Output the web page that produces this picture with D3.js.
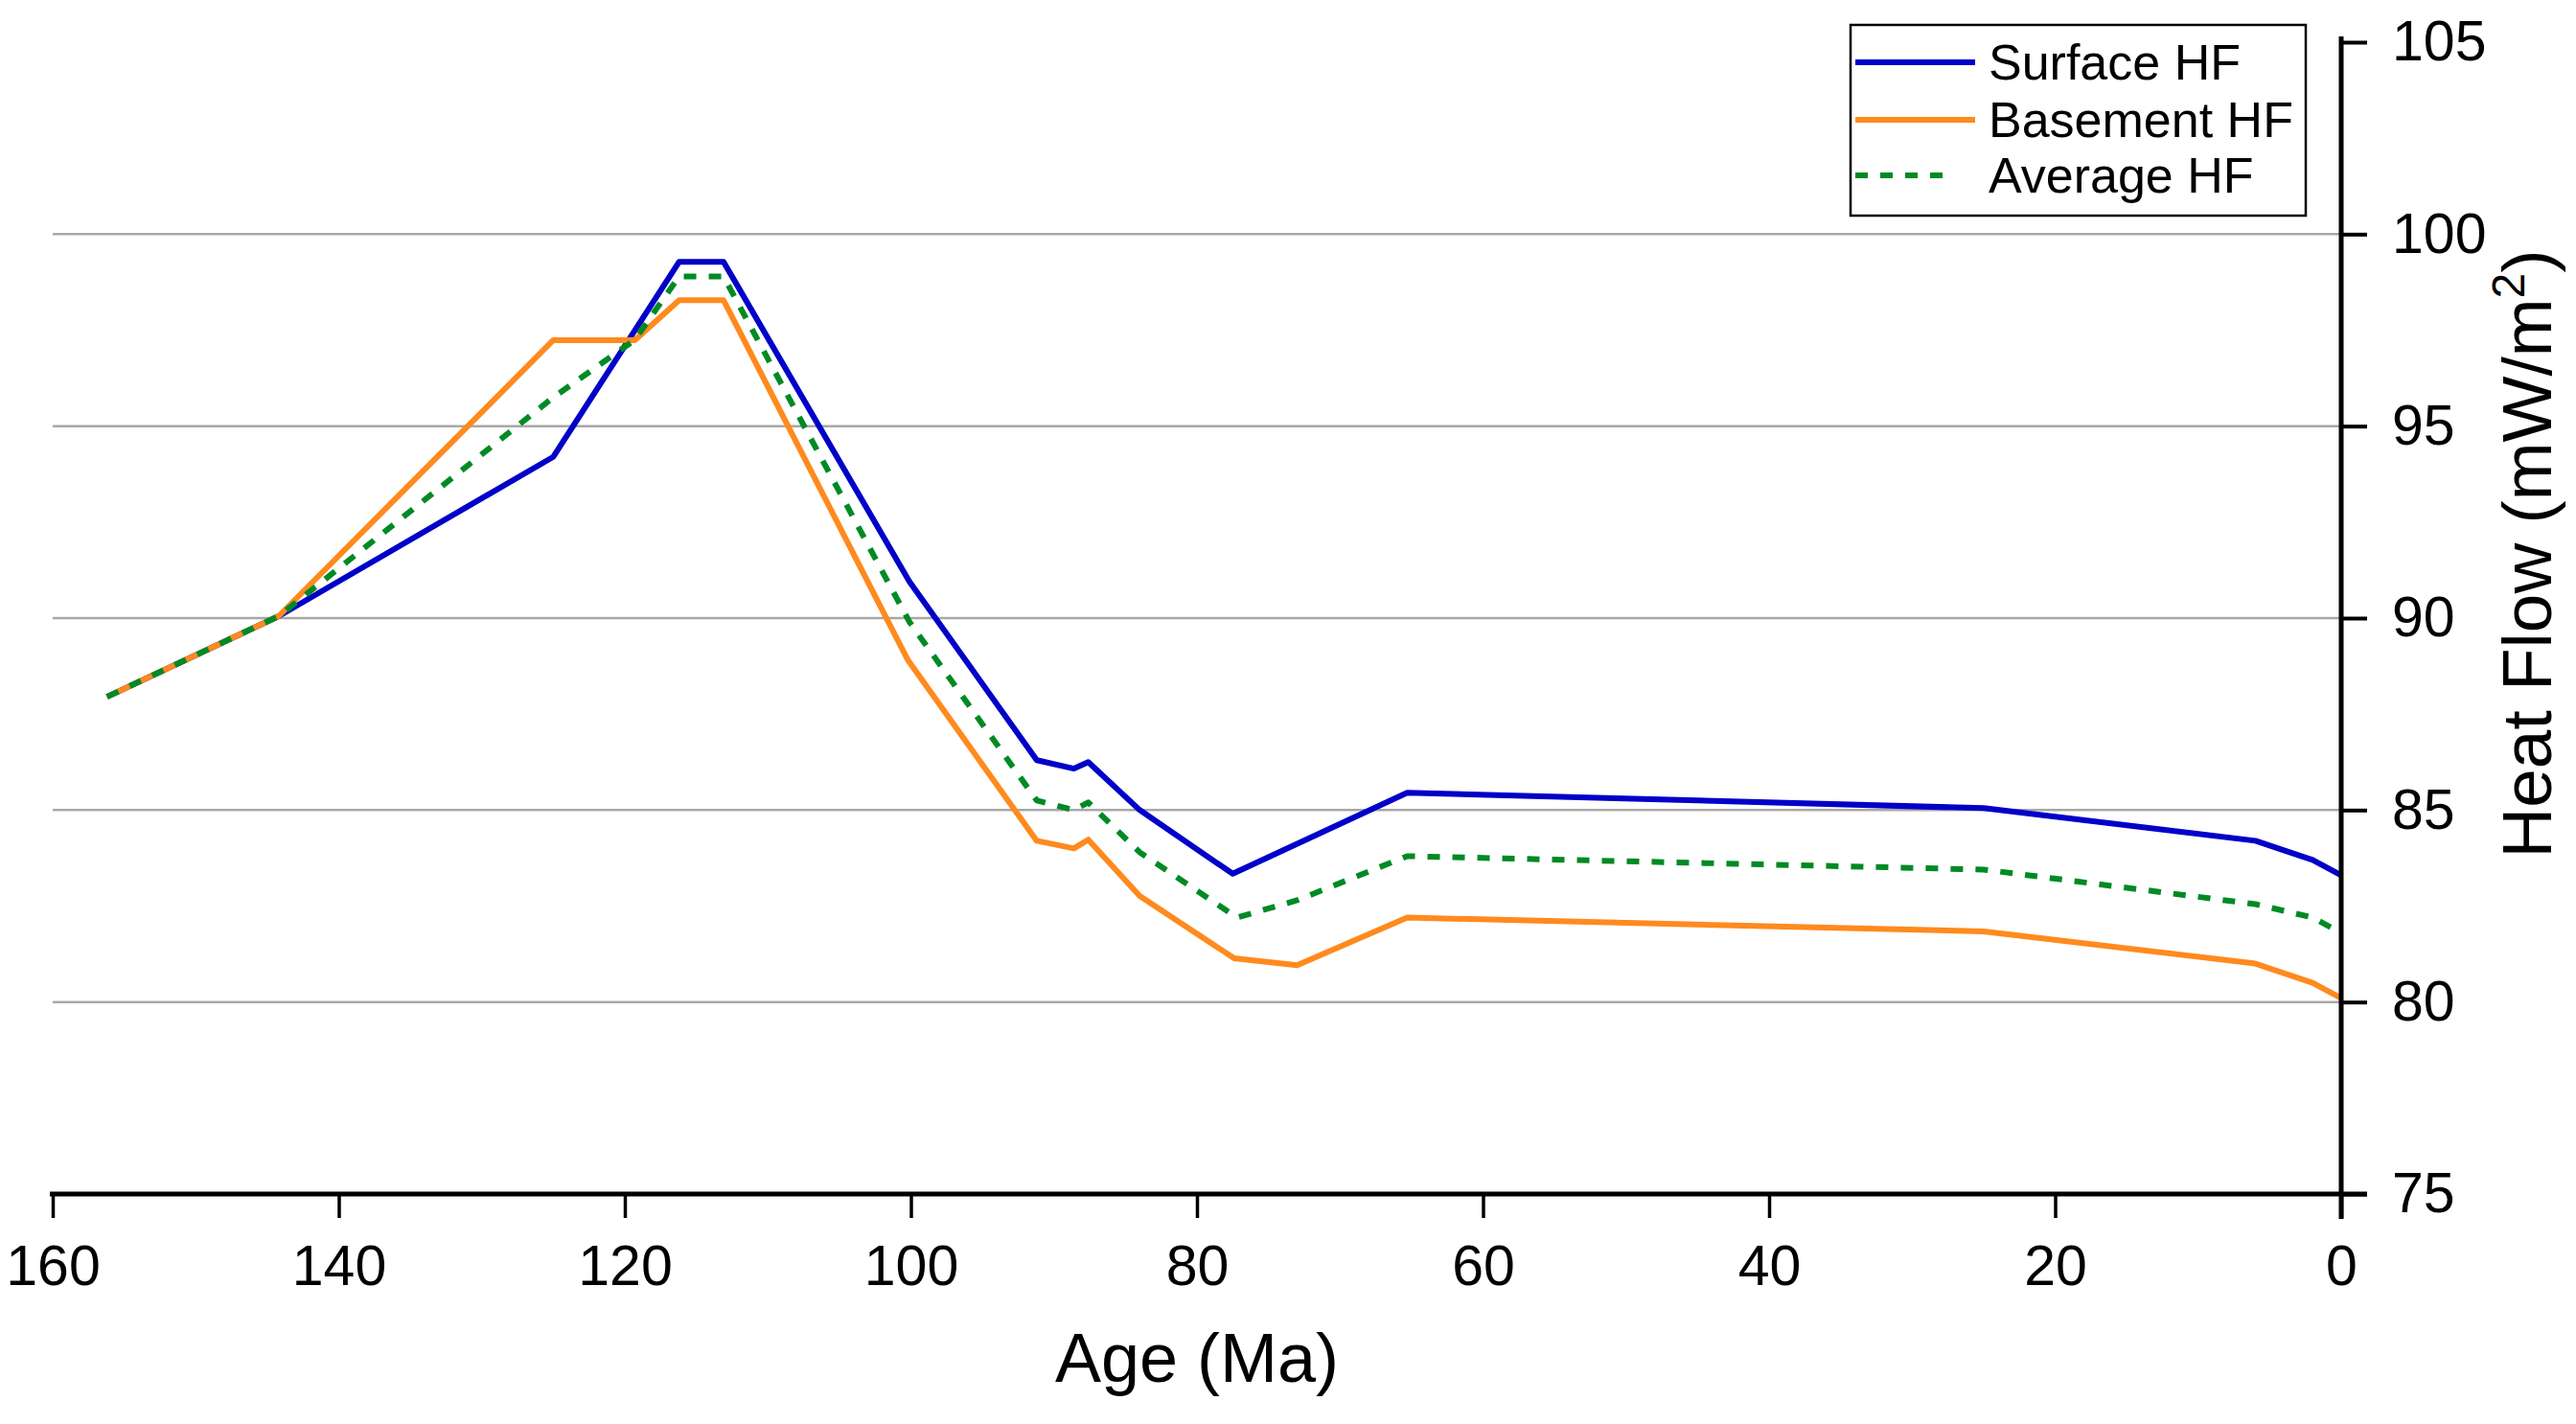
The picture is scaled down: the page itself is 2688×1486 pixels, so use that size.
<!DOCTYPE html>
<html>
<head>
<meta charset="utf-8">
<script src="https://cdn.jsdelivr.net/npm/d3@7"></script>
<style>
  body { margin: 0; background: #fff; }
  svg { display: block; font-family: "Liberation Sans", Arial, sans-serif; }
</style>
</head>
<body>
<div id="chart"></div>
<script>
// Series (age in Ma, heat flow in mW/m2)
const surfaceAge = [156.2, 144.2, 125.0, 116.2, 113.1, 100.1, 91.2, 88.6, 87.6, 84.0, 77.5, 65.3, 25.0, 6.0, 2.0, 0];
const surfaceHF  = [87.95, 90.05, 94.2, 99.28, 99.28, 90.95, 86.3, 86.08, 86.25, 85.0, 83.34, 85.45, 85.05, 84.2, 83.7, 83.3];

const basementAge = [156.2, 144.2, 125.0, 119.3, 116.2, 113.1, 100.2, 91.2, 88.6, 87.6, 84.0, 77.4, 73.0, 65.3, 25.0, 6.0, 2.0, 0];
const basementHF  = [87.95, 90.05, 97.24, 97.24, 98.28, 98.28, 88.9, 84.2, 84.0, 84.23, 82.76, 81.14, 80.96, 82.2, 81.84, 81.0, 80.5, 80.1];

const averageAge = [156.2, 144.2, 125.0, 119.3, 116.2, 113.1, 100.1, 91.2, 88.6, 87.6, 84.0, 77.2, 73.0, 65.3, 25.0, 6.0, 2.0, 0];
const averageHF  = [87.95, 90.05, 95.75, 97.25, 98.9, 98.9, 89.9, 85.25, 85.0, 85.2, 83.9, 82.2, 82.65, 83.8, 83.45, 82.55, 82.2, 81.8];

const xTicks = [160, 140, 120, 100, 80, 60, 40, 20, 0];
const yTicks = [75, 80, 85, 90, 95, 100, 105];
const gridValues = [80, 85, 90, 95, 100];

const series = [
  { name: "Surface HF",  age: surfaceAge,  hf: surfaceHF,  color: "#0000c8", dash: null },
  { name: "Basement HF", age: basementAge, hf: basementHF, color: "#ff8a1e", dash: null },
  { name: "Average HF",  age: averageAge,  hf: averageHF,  color: "#008a24", dash: "13,13" }
];

// Layout
const width = 2688, height = 1486;
const margin = { top: 44, right: 245, bottom: 240, left: 55 };

const svg = d3.select("#chart").append("svg")
    .attr("width", width)
    .attr("height", height);

const x = d3.scaleLinear().domain([160, 0]).range([margin.left, width - margin.right]);
const y = d3.scaleLinear().domain([75, 105]).range([height - margin.bottom, margin.top]);

// Gridlines
svg.append("g")
    .selectAll("line")
    .data(gridValues)
    .join("line")
    .attr("x1", x(160))
    .attr("x2", x(0))
    .attr("y1", d => y(d))
    .attr("y2", d => y(d))
    .attr("stroke", "#a8a8a8")
    .attr("stroke-width", 2.5);

// Data lines
const line = d3.line()
    .x(d => x(d[0]))
    .y(d => y(d[1]));

svg.append("g")
    .attr("fill", "none")
    .selectAll("path")
    .data(series)
    .join("path")
    .attr("stroke", d => d.color)
    .attr("stroke-width", 6)
    .attr("stroke-linejoin", "round")
    .attr("stroke-dasharray", d => d.dash)
    .attr("d", d => line(d.age.map((a, i) => [a, d.hf[i]])));

// X axis
const xAxis = svg.append("g")
    .attr("transform", `translate(0,${y(75)})`)
    .call(d3.axisBottom(x).tickValues(xTicks).tickSize(25).tickSizeOuter(0).tickPadding(28));
xAxis.select(".domain")
    .attr("d", `M${x(160) - 3},0H${x(0) + 27}`)
    .attr("stroke-width", 5);
xAxis.selectAll(".tick line").attr("stroke-width", 3.5);
xAxis.selectAll(".tick text")
    .attr("font-size", 59)
    .attr("font-family", "Liberation Sans, Arial, sans-serif")
    .attr("fill", "#000");

// Y axis on the right
const yAxis = svg.append("g")
    .attr("transform", `translate(${x(0)},0)`)
    .call(d3.axisRight(y).tickValues(yTicks).tickSize(27).tickSizeOuter(0).tickPadding(26));
yAxis.select(".domain")
    .attr("d", `M0,${y(105) - 6}V${y(75) + 26}`)
    .attr("stroke-width", 5);
yAxis.selectAll(".tick line").attr("stroke-width", 4);
yAxis.selectAll(".tick text")
    .attr("font-size", 59)
    .attr("font-family", "Liberation Sans, Arial, sans-serif")
    .attr("fill", "#000");

// Axis titles
svg.append("text")
    .attr("x", (x(160) + x(0)) / 2)
    .attr("y", 1442)
    .attr("text-anchor", "middle")
    .attr("font-size", 72)
    .text("Age (Ma)");

const yTitle = svg.append("text")
    .attr("transform", `translate(2662,578) rotate(-90)`)
    .attr("text-anchor", "middle")
    .attr("font-size", 73);
yTitle.append("tspan").text("Heat Flow (mW/m");
yTitle.append("tspan").attr("font-size", 48).attr("dy", -28).text("2");
yTitle.append("tspan").attr("dy", 28).text(")");

// Legend
const legend = svg.append("g");
legend.append("rect")
    .attr("x", 1931)
    .attr("y", 26)
    .attr("width", 475)
    .attr("height", 199)
    .attr("fill", "#fff")
    .attr("stroke", "#000")
    .attr("stroke-width", 2.5);

const legendRows = [65, 125, 183];
const item = legend.selectAll("g.item")
    .data(series)
    .join("g")
    .attr("class", "item")
    .attr("transform", (d, i) => `translate(0,${legendRows[i]})`);

item.append("line")
    .attr("x1", 1936)
    .attr("x2", d => d.dash ? 2036 : 2061)
    .attr("stroke", d => d.color)
    .attr("stroke-width", 6)
    .attr("stroke-dasharray", d => d.dash ? "13,13" : null);

item.append("text")
    .attr("x", 2075)
    .attr("dy", "0.35em")
    .attr("font-size", 52)
    .text(d => d.name);
</script>
</body>
</html>
